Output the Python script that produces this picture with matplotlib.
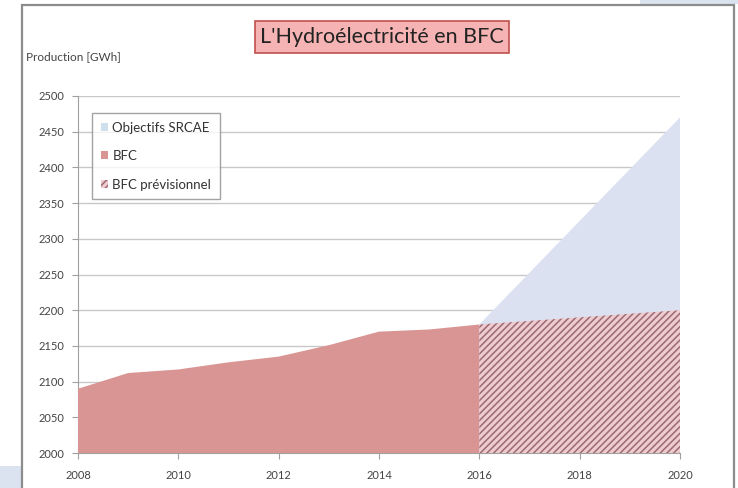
import matplotlib.pyplot as plt
from matplotlib.patches import Patch, Rectangle

plt.rcParams["font.family"] = ["Lato", "DejaVu Sans"]
plt.rcParams["hatch.linewidth"] = 1.1

# data
years_bfc = [2008, 2009, 2010, 2011, 2012, 2013, 2014, 2015, 2016]
bfc = [2090, 2112, 2117, 2127, 2135, 2151, 2170, 2173, 2180]
years_prev = [2016, 2020]
bfc_prev = [2180, 2200]
years_srcae = [2016, 2020]
srcae = [2180, 2470]

x_ticks = [2008, 2010, 2012, 2014, 2016, 2018, 2020]
y_ticks = list(range(2000, 2501, 50))

RED = "#d99594"
BLUE = "#dbe1f0"
HATCH_BG = "#eecbce"
HATCH_FG = "#9c6a72"

W, H = 738, 488
fig = plt.figure(figsize=(W / 100, H / 100), dpi=100)

# decorative background bits and the chart frame
fig.patches.append(Rectangle((640 / W, 1 - 4 / H), 98 / W, 4 / H, transform=fig.transFigure,
                             facecolor="#dbe3f0", edgecolor="none"))
fig.patches.append(Rectangle((0, 0), 21 / W, 22 / H, transform=fig.transFigure,
                             facecolor="#dbe3f0", edgecolor="none"))
fig.patches.append(Rectangle((22 / W, -0.01), 712 / W, 1 - 5 / H + 0.01, transform=fig.transFigure,
                             facecolor="none", edgecolor="#8c8c8c", linewidth=1.6))

ax = fig.add_axes([78 / W, 35 / H, 602 / W, 357 / H])

ax.fill_between(years_srcae, 2000, srcae, facecolor=BLUE, edgecolor="none", zorder=2)
ax.fill_between(years_bfc, 2000, bfc, facecolor=RED, edgecolor="none", zorder=3)
ax.fill_between(years_prev, 2000, bfc_prev, facecolor=HATCH_BG, edgecolor=HATCH_FG,
                hatch="/////", linewidth=0, zorder=3)

ax.set_xlim(2008, 2020)
ax.set_ylim(2000, 2500)
ax.set_xticks(x_ticks)
ax.set_yticks(y_ticks)
ax.grid(axis="y", color="#c8c8c8", linewidth=1.0, zorder=1)
ax.set_axisbelow(True)
for side in ["top", "right"]:
    ax.spines[side].set_visible(False)
for side in ["left", "bottom"]:
    ax.spines[side].set_color("#a0a0a0")
ax.tick_params(axis="both", labelsize=8, colors="#a0a0a0", labelcolor="#444444", length=4)
ax.tick_params(axis="x", pad=8)
ax.tick_params(axis="y", pad=6)

fig.text(26 / W, 1 - 57 / H, "Production [GWh]", fontsize=8.5, color="#444444", va="center", ha="left")

fig.text(382 / W, 1 - 37 / H, "L'Hydroélectricité en BFC", fontsize=15.5, color="#222222",
         ha="center", va="center",
         bbox=dict(boxstyle="square,pad=0.26", facecolor="#f6b3b3", edgecolor="#c0504d", linewidth=1.2))

handles = [
    Patch(facecolor="#cfe0ec", edgecolor="none", label="Objectifs SRCAE"),
    Patch(facecolor=RED, edgecolor="none", label="BFC"),
    Patch(facecolor=HATCH_BG, edgecolor=HATCH_FG, hatch="/////", linewidth=0, label="BFC prévisionnel"),
]
leg = ax.legend(handles=handles, loc="upper left", bbox_to_anchor=(92 / W, 1 - 113 / H),
                bbox_transform=fig.transFigure, fontsize=9.5, frameon=True, fancybox=False,
                handlelength=0.55, handleheight=0.55, handletextpad=0.35, labelspacing=1.25,
                borderpad=0.65, borderaxespad=0)
leg.get_frame().set_edgecolor("#8c8c8c")
leg.get_frame().set_linewidth(1.0)
for t in leg.get_texts():
    t.set_color("#333333")

fig.savefig("out.png", dpi=100, facecolor="white")
